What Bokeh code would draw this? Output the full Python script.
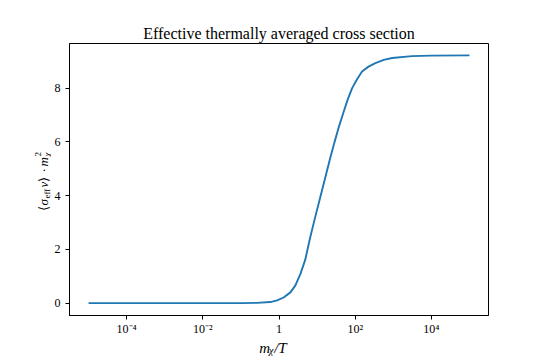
import math
from bokeh.plotting import figure
from bokeh.models import Range1d, FixedTicker, CustomJSTickFormatter
from bokeh.layouts import row, column
from bokeh.core.properties import value
from bokeh.embed import file_html
from bokeh.resources import INLINE

# ---- data ----
mx_over_T = [1e-5, 1e-4, 1e-3, 1e-2, 1e-1, 0.263, 0.589, 0.891, 1.318, 1.995,
             2.692, 3.631, 4.898, 6.607, 8.913, 12.02, 16.22, 22.39, 28.84,
             37.15, 50.12, 64.57, 83.18, 112.2, 151.4, 223.9, 338.8, 562.3,
             933.3, 3090.0, 10000.0, 1e5]
sigma_v_m2 = [0.0, 0.0, 0.0, 0.0, 0.0, 0.01, 0.04, 0.10, 0.21, 0.40,
              0.66, 1.08, 1.62, 2.45, 3.20, 3.92, 4.65, 5.43, 6.00,
              6.55, 7.13, 7.60, 8.00, 8.33, 8.62, 8.80, 8.93, 9.05,
              9.12, 9.19, 9.21, 9.22]

x_ticks = [1e-4, 1e-2, 1.0, 1e2, 1e4]
x_tick_labels = ["10\u207b\u2074", "10\u207b\u00b2", "1", "10\u00b2", "10\u2074"]
y_ticks = [0, 2, 4, 6, 8]

title_text = "Effective thermally averaged cross section"

FONT = "Liberation Serif"

# ---- layout geometry (pixels) ----
YLAB_W = 51
MAIN_W = 488
MAIN_H = 337
XLAB_H = 21
TOTAL_H = MAIN_H + XLAB_H

# ---- main plot ----
p = figure(x_axis_type="log", output_backend="svg", toolbar_location=None,
           x_range=Range1d(10 ** -5.5, 10 ** 5.5),
           y_range=Range1d(-0.46, 9.66),
           frame_width=419, frame_height=272,
           min_border_left=16, min_border_right=MAIN_W - 16 - 419,
           min_border_top=43, min_border_bottom=MAIN_H - 43 - 272)

p.title.text = title_text
p.title.align = "center"
p.title.text_font = FONT
p.title.text_font_size = "16px"
p.title.text_font_style = "normal"
p.title.text_color = "black"
p.title.standoff = 4

p.xgrid.visible = False
p.ygrid.visible = False
p.outline_line_color = "black"
p.outline_line_width = 1
p.outline_line_alpha = 1
p.background_fill_color = "white"
p.border_fill_color = "white"

p.line(mx_over_T, sigma_v_m2, line_color="#1f77b4", line_width=1.9)

p.xaxis.ticker = FixedTicker(ticks=x_ticks, minor_ticks=[])
p.xaxis.formatter = CustomJSTickFormatter(args=dict(tv=x_ticks, tl=x_tick_labels), code="""
let best = 0, bd = 1e9;
for (let i = 0; i < tv.length; i++) {
  const d = Math.abs(Math.log10(tv[i]) - Math.log10(tick));
  if (d < bd) { bd = d; best = i; }
}
return tl[best];
""")
p.yaxis.ticker = FixedTicker(ticks=y_ticks, minor_ticks=[])

for ax in (p.xaxis[0], p.yaxis[0]):
    ax.major_label_text_font = FONT
    ax.major_label_text_font_size = "12px"
    ax.major_label_text_color = "black"
    ax.major_tick_out = 4
    ax.major_tick_in = 0
    ax.minor_tick_out = 0
    ax.minor_tick_in = 0
    ax.axis_line_color = "black"
    ax.major_tick_line_color = "black"
    ax.axis_label = None
p.xaxis.major_label_standoff = 2
p.yaxis.major_label_standoff = 5


def label_fig(w, h):
    f = figure(width=w, height=h, output_backend="svg", toolbar_location=None,
               x_range=Range1d(0, w), y_range=Range1d(0, h),
               x_axis_location=None, y_axis_location=None, title=None,
               min_border=0)
    f.xgrid.visible = False
    f.ygrid.visible = False
    f.outline_line_color = None
    f.background_fill_color = "white"
    f.border_fill_color = "white"
    return f


def piece(f, t, x, y, size, style, angle=0.0):
    f.text(x=[x], y=[y], text=[t], angle=angle,
           text_font=value(FONT), text_font_size=size, text_font_style=style,
           text_baseline="alphabetic", text_align="left", text_color="black")


# ---- y axis label: <sigma_eff v> . m_chi^2 (rotated) ----
ylab = label_fig(YLAB_W, TOTAL_H)
yb = 43
for t, x, y, fs, st in [
    ("\u27e8", yb, 148, "13px", "normal"),
    ("\u03c3", yb, 153, "13px", "italic"),
    ("eff", yb + 3, 160, "9px", "normal"),
    ("v", yb, 171, "13px", "italic"),
    ("\u27e9", yb, 177, "13px", "normal"),
    ("\u00b7", yb, 186, "13px", "normal"),
    ("m", yb, 192, "13px", "italic"),
    ("\u03c7", yb + 3, 202, "9px", "italic"),
    ("2", yb - 6, 202, "9px", "normal"),
]:
    piece(ylab, t, x, y, fs, st, angle=math.pi / 2)

# ---- x axis label: m_chi / T ----
xlab = label_fig(MAIN_W, XLAB_H)
xb = 12
for t, x, y, fs, st in [
    ("m", 222, xb, "15px", "italic"),
    ("\u03c7", 233.5, xb - 2.5, "10px", "italic"),
    ("/T", 239.5, xb, "15px", "italic"),
]:
    piece(xlab, t, x, y, fs, st)

layout = row(ylab, column(p, xlab))
open("out.html", "w").write(file_html(layout, INLINE))
